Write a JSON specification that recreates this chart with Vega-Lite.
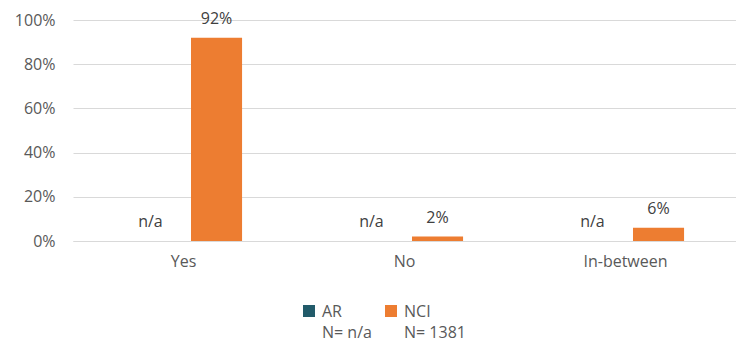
{
  "$schema": "https://vega.github.io/schema/vega-lite/v6.json",
  "width": 663,
  "height": 221,
  "autosize": "none",
  "padding": {"left": 73, "top": 20, "right": 0, "bottom": 103},
  "background": "white",
  "config": {
    "font": "Open Sans",
    "view": {"stroke": null},
    "axis": {
      "labelFont": "Open Sans",
      "labelFontSize": 16,
      "labelColor": "#595959",
      "gridColor": "#D9D9D9",
      "domainColor": "#D9D9D9"
    }
  },
  "data": {
    "values": [
      {"cat": "Yes", "series": "AR", "value": 0, "label": "n/a"},
      {"cat": "Yes", "series": "NCI", "value": 0.92, "label": "92%"},
      {"cat": "No", "series": "AR", "value": 0, "label": "n/a"},
      {"cat": "No", "series": "NCI", "value": 0.02, "label": "2%"},
      {"cat": "In-between", "series": "AR", "value": 0, "label": "n/a"},
      {"cat": "In-between", "series": "NCI", "value": 0.06, "label": "6%"}
    ]
  },
  "encoding": {
    "x": {
      "field": "cat",
      "type": "nominal",
      "sort": ["Yes", "No", "In-between"],
      "scale": {"paddingInner": 0.47, "paddingOuter": 0.235},
      "axis": {"title": null, "labelAngle": 0, "ticks": false, "grid": false, "labelPadding": 12, "domainColor": "#D9D9D9"}
    },
    "xOffset": {
      "field": "series",
      "type": "nominal",
      "sort": ["AR", "NCI"],
      "scale": {"paddingInner": 0.227, "paddingOuter": 0}
    },
    "y": {
      "field": "value",
      "type": "quantitative",
      "scale": {"domain": [0, 1], "nice": false},
      "axis": {"title": null, "format": ".0%", "values": [0, 0.2, 0.4, 0.6, 0.8, 1], "ticks": false, "domain": false, "labelPadding": 18, "grid": true}
    }
  },
  "layer": [
    {
      "mark": {"type": "bar"},
      "encoding": {
        "color": {
          "field": "series",
          "type": "nominal",
          "sort": ["AR", "NCI"],
          "scale": {"domain": ["AR", "NCI"], "range": ["#225B6A", "#ED7D31"]},
          "legend": {
            "title": null,
            "orient": "none",
            "legendX": 228,
            "legendY": 283,
            "direction": "horizontal",
            "symbolType": "square",
            "symbolSize": 144,
            "symbolStrokeWidth": 0,
            "labelFont": "Open Sans",
            "labelFontSize": 16,
            "labelColor": "#595959",
            "labelOffset": 5,
            "labelBaseline": "alphabetic",
            "columnPadding": 11,
            "labelExpr": "datum.label == 'AR' ? ['AR', 'N= n/a'] : ['NCI', 'N= 1381']",
            "encode": {
              "labels": {
                "update": {
                  "lineHeight": {"value": 21},
                  "dy": {"value": 6}
                }
              }
            }
          }
        }
      }
    },
    {
      "mark": {"type": "text", "dy": -14, "baseline": "alphabetic", "fontSize": 16, "color": "#404040", "font": "Open Sans"},
      "encoding": {
        "text": {"field": "label"}
      }
    }
  ]
}
